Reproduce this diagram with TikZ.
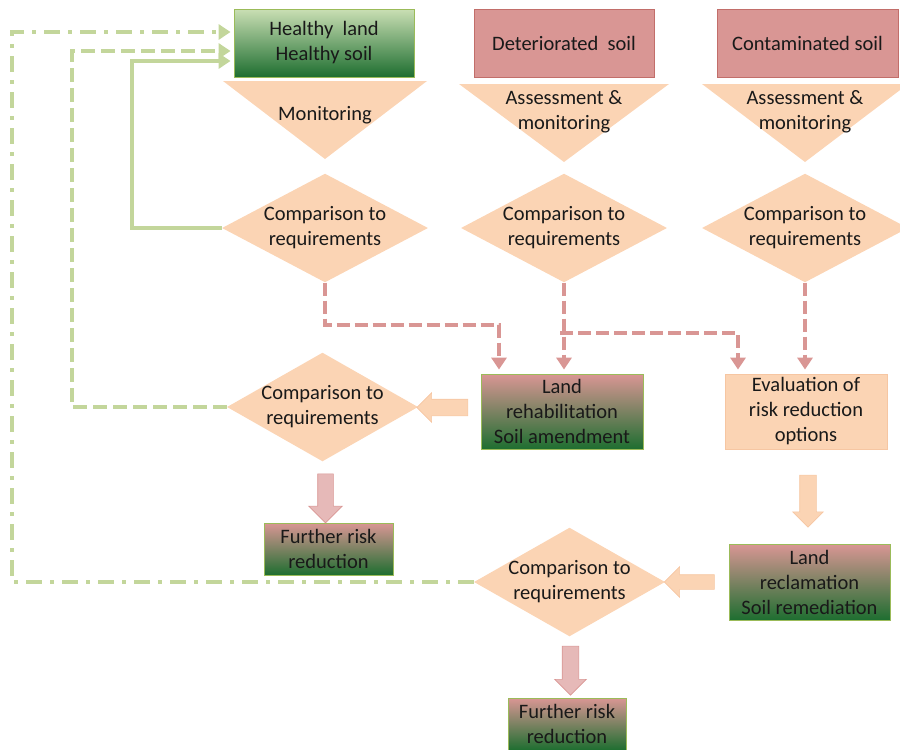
\documentclass[tikz,border=0pt]{standalone}
\usepackage{fontspec}
\setmainfont{Carlito}
\usetikzlibrary{shapes.geometric,shapes.arrows,arrows.meta}

\definecolor{peach}{HTML}{FBD4B4}
\definecolor{peachedge}{HTML}{F6C6A2}
\definecolor{rose}{HTML}{D99694}
\definecolor{roseedge}{HTML}{C26E6A}
\definecolor{blush}{HTML}{E6B9B8}
\definecolor{leaf}{HTML}{C3D69B}
\definecolor{leafedge}{HTML}{9BBB59}
\definecolor{paleleaf}{HTML}{CADFB4}
\definecolor{midleaf}{HTML}{A6C47E}
\definecolor{deepleaf}{HTML}{1E6E30}

\begin{document}
\begin{tikzpicture}[x=1pt,y=-1pt,
  every node/.style={font=\fontsize{20.5}{25}\selectfont, align=center, inner sep=0pt, text=black!90},
  greenbox/.style={rectangle, draw=leafedge, line width=0.8pt, top color=paleleaf, bottom color=deepleaf},
  mixbox/.style={rectangle, draw=leafedge, line width=0.8pt, top color=rose, middle color=midleaf, bottom color=deepleaf},
  rosebox/.style={rectangle, fill=rose, draw=roseedge, line width=0.8pt},
  peachbox/.style={rectangle, fill=peach, draw=peachedge, line width=0.8pt},
  check/.style={diamond, fill=peach, minimum width=206pt, minimum height=108pt, inner sep=-14pt},
  funnel/.style={fill=peach},
  blockarrow/.style={single arrow, single arrow head indent=0pt, line width=0.6pt},
  peacharrow/.style={blockarrow, fill=peach, draw=peachedge},
  pinkarrow/.style={blockarrow, fill=blush, draw=rose},
  feed/.style={draw=leaf, line width=4pt, -{Triangle[length=12pt,width=15pt]}, shorten >=3pt},
  risk/.style={draw=rose, line width=4pt, dash pattern=on 13pt off 5pt, -{Triangle[length=12pt,width=15pt]}, shorten >=4pt}]

\useasboundingbox (0,0) rectangle (900,750);

% starting states of the land
\node[greenbox, minimum width=180pt, minimum height=68pt] (healthy) at (324,43) {Healthy\ \ land\\Healthy soil};
\node[rosebox, minimum width=180pt, minimum height=68pt] (deter) at (564,43) {Deteriorated\ \ soil};
\node[rosebox, minimum width=181pt, minimum height=68pt] (contam) at (807.5,43) {Contaminated soil};

% monitoring funnels
\fill[funnel] (223,81) -- (427,81) -- (325,159) -- cycle;
\fill[funnel] (459,84) -- (669,84) -- (564,162) -- cycle;
\fill[funnel] (702,84) -- (908,84) -- (805,162) -- cycle;
\node (mon1) at (325,115) {Monitoring};
\node (mon2) at (564,112) {Assessment \&\\monitoring};
\node (mon3) at (805,112) {Assessment \&\\monitoring};

% first checks
\node[check] (cmp1) at (325,228) {Comparison to\\requirements};
\node[check] (cmp2) at (564,228) {Comparison to\\requirements};
\node[check] (cmp3) at (805,228) {Comparison to\\requirements};

% measures
\node[mixbox, minimum width=162pt, minimum height=75pt] (rehab) at (562,411.5) {Land\\rehabilitation\\Soil amendment};
\node[peachbox, minimum width=162pt, minimum height=75pt] (evalbox) at (806,411.5) {Evaluation of\\risk reduction\\options};
\node[mixbox, minimum width=161pt, minimum height=76pt] (reclam) at (809.5,582) {Land\\reclamation\\Soil remediation};

% second checks
\node[check, minimum width=191pt, minimum height=104pt] (cmp4) at (322.5,407) {Comparison to\\requirements};
\node[check, minimum width=191pt, minimum height=105pt] (cmp5) at (569.5,582) {Comparison to\\requirements};

% further steps
\node[mixbox, minimum width=129pt, minimum height=52pt] (further1) at (328.5,549) {Further risk\\reduction};
\node[mixbox, minimum width=118pt, minimum height=52pt] (further2) at (567,724) {Further risk\\reduction};

% block arrows (inner sep sets half the shaft width)
\node[pinkarrow, shape border rotate=270, minimum height=49pt, inner sep=7.5pt, single arrow head extend=9pt] (down1) at (325.5,494.5) {};
\node[pinkarrow, shape border rotate=270, minimum height=49pt, inner sep=8pt, single arrow head extend=7.5pt] (down2) at (570.5,666.5) {};
\node[peacharrow, shape border rotate=270, minimum height=52pt, inner sep=8pt, single arrow head extend=7pt] (down3) at (808,497) {};
\node[peacharrow, shape border rotate=180, minimum height=51pt, inner sep=8pt, single arrow head extend=6.5pt] (left1) at (446.5,407.5) {};
\node[peacharrow, shape border rotate=180, minimum height=50pt, inner sep=7pt, single arrow head extend=8pt] (left2) at (693,582) {};

% feedback to healthy land
\coordinate (k1) at (132,61);
\coordinate (k2) at (72,51);
\coordinate (k3) at (12,32);
\draw[feed] (cmp1.west) -| (k1) -- (k1 -| healthy.west);
\draw[feed, dash pattern=on 14pt off 6pt] (cmp4.west) -| (k2) -- (k2 -| healthy.west);
\draw[feed, dash pattern=on 16pt off 8pt on 4pt off 8pt] (cmp5.west) -| (k3) -- (k3 -| healthy.west);

% failed checks lead to measures
\coordinate (r1) at (499,325);
\coordinate (r2) at (560,333);
\coordinate (r3) at (738,333);
\draw[risk] (cmp1.south) |- (r1) -- (r1 |- rehab.north);
\draw[risk] (cmp2.south) -- (cmp2.south |- rehab.north);
\draw[risk] (r2) -- (r3) -- (r3 |- evalbox.north);
\draw[risk] (cmp3.south) -- (cmp3.south |- evalbox.north);

\end{tikzpicture}
\end{document}
